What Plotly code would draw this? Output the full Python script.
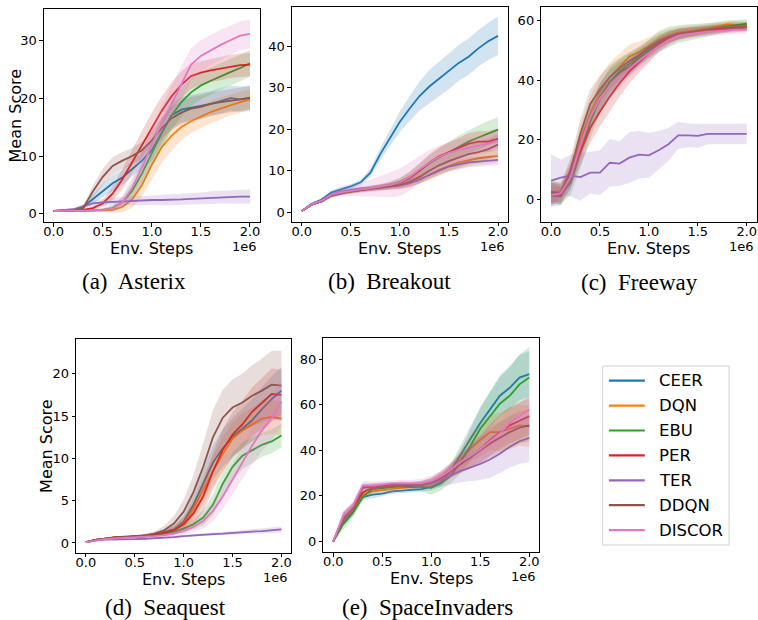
import plotly.graph_objects as go

W, H = 758, 620

env_steps = [0, 100000, 200000, 300000, 400000, 500000, 600000, 700000, 800000, 900000,
             1000000, 1100000, 1200000, 1300000, 1400000, 1500000, 1600000, 1700000,
             1800000, 1900000, 2000000]

algorithms = ["CEER", "DQN", "EBU", "PER", "TER", "DDQN", "DISCOR"]
colors = ["#1f77b4", "#ff7f0e", "#2ca02c", "#d62728", "#9467bd", "#8c564b", "#e377c2"]

x_tickvals = [0, 500000, 1000000, 1500000, 2000000]
x_ticktext = ["0.0", "0.5", "1.0", "1.5", "2.0"]

# ---------------- Asterix ----------------
asterix_mean = {
    "CEER": [0.5, 0.5, 0.6, 1.2, 2.6, 4.0, 5.3, 6.3, 7.8, 9.2, 11.0, 14.0, 17.0, 18.0, 18.3, 18.6, 19.0, 19.5, 20.0, 19.8, 20.0],
    "DQN": [0.5, 0.5, 0.5, 0.5, 0.6, 0.6, 0.7, 1.2, 2.5, 5.0, 8.5, 11.5, 13.5, 15.0, 16.0, 16.8, 17.6, 18.2, 18.8, 19.3, 19.8],
    "EBU": [0.5, 0.5, 0.5, 0.5, 0.6, 0.7, 1.0, 2.0, 4.0, 7.0, 10.5, 14.0, 17.0, 19.3, 21.0, 22.2, 23.0, 23.8, 24.5, 25.2, 26.0],
    "PER": [0.5, 0.5, 0.6, 0.7, 1.0, 1.8, 3.5, 6.0, 9.0, 12.0, 15.0, 17.8, 20.3, 22.3, 23.8, 24.4, 24.8, 25.1, 25.5, 25.7, 25.8],
    "TER": [0.5, 0.6, 0.8, 1.3, 1.8, 2.0, 2.1, 2.2, 2.3, 2.3, 2.4, 2.4, 2.4, 2.5, 2.6, 2.7, 2.8, 2.9, 3.0, 3.0, 3.0],
    "DDQN": [0.5, 0.5, 0.6, 1.0, 3.9, 6.4, 8.3, 9.2, 10.0, 11.0, 12.7, 14.8, 16.5, 17.5, 18.2, 18.5, 19.0, 19.3, 19.5, 19.8, 20.1],
    "DISCOR": [0.5, 0.5, 0.5, 0.5, 0.6, 0.7, 0.9, 2.0, 4.5, 8.0, 12.0, 15.5, 19.0, 22.5, 25.8, 27.3, 28.3, 29.2, 30.0, 30.8, 31.1],
}
asterix_band = {
    "CEER": [0.1, 0.1, 0.2, 0.4, 0.8, 1.2, 1.4, 1.3, 1.3, 1.5, 1.8, 2.0, 2.2, 2.2, 2.2, 2.2, 2.2, 2.2, 2.2, 2.2, 2.2],
    "DQN": [0.1, 0.1, 0.1, 0.1, 0.2, 0.3, 0.5, 0.9, 1.5, 2.0, 2.5, 2.7, 2.6, 2.3, 2.0, 2.0, 1.9, 1.9, 1.8, 1.8, 1.8],
    "EBU": [0.1, 0.1, 0.1, 0.1, 0.2, 0.3, 0.5, 0.9, 1.5, 2.0, 2.5, 2.7, 2.6, 2.5, 2.4, 2.4, 2.3, 2.3, 2.3, 2.3, 2.3],
    "PER": [0.1, 0.1, 0.1, 0.2, 0.3, 0.6, 1.2, 1.8, 2.2, 2.4, 2.5, 2.5, 2.4, 2.3, 2.2, 2.0, 2.0, 2.0, 2.0, 2.0, 2.0],
    "TER": [0.1, 0.1, 0.2, 0.3, 0.5, 0.6, 0.7, 0.7, 0.8, 0.8, 0.8, 0.8, 0.9, 0.9, 1.0, 1.0, 1.1, 1.1, 1.1, 1.2, 1.2],
    "DDQN": [0.1, 0.1, 0.2, 0.4, 1.0, 1.4, 1.5, 1.5, 1.4, 1.5, 1.6, 1.8, 2.0, 2.0, 2.0, 2.0, 2.0, 2.0, 2.0, 2.0, 2.0],
    "DISCOR": [0.1, 0.1, 0.1, 0.1, 0.2, 0.3, 0.5, 1.0, 1.8, 2.5, 3.0, 3.2, 3.2, 3.0, 2.8, 2.7, 2.6, 2.6, 2.5, 2.5, 2.5],
}

# ---------------- Breakout ----------------
breakout_mean = {
    "CEER": [0.3, 2.0, 3.0, 4.7, 5.5, 6.2, 7.2, 9.5, 14.0, 18.0, 21.8, 25.0, 28.0, 30.3, 32.2, 34.0, 36.0, 37.5, 39.5, 41.2, 42.5],
    "DQN": [0.3, 1.8, 2.6, 4.0, 4.6, 5.0, 5.3, 5.6, 5.9, 6.2, 6.5, 7.0, 8.0, 9.0, 10.2, 11.2, 12.0, 12.5, 13.0, 13.3, 13.5],
    "EBU": [0.3, 1.8, 2.6, 4.0, 4.7, 5.1, 5.5, 5.8, 6.1, 6.6, 7.3, 8.5, 10.0, 11.8, 13.2, 14.5, 15.8, 17.0, 18.0, 19.0, 19.9],
    "PER": [0.3, 1.8, 2.6, 4.0, 4.6, 5.0, 5.4, 5.7, 6.0, 6.4, 7.0, 8.2, 10.0, 12.0, 13.5, 14.5, 15.5, 16.5, 17.0, 17.0, 17.7],
    "TER": [0.3, 1.8, 2.7, 4.2, 5.0, 5.4, 5.7, 5.7, 6.0, 6.2, 6.5, 7.0, 7.8, 9.0, 10.0, 11.0, 11.5, 12.0, 12.2, 12.4, 12.6],
    "DDQN": [0.3, 1.8, 2.6, 4.0, 4.5, 5.0, 5.3, 5.6, 5.9, 6.2, 6.5, 7.3, 8.5, 10.0, 11.3, 12.3, 13.2, 14.0, 14.5, 15.2, 16.3],
    "DISCOR": [0.3, 1.9, 2.7, 4.2, 4.8, 5.2, 5.5, 5.8, 6.2, 6.6, 7.2, 8.5, 10.3, 12.0, 13.3, 14.3, 15.0, 15.5, 16.0, 16.5, 17.2],
}
breakout_band = {
    "CEER": [0.1, 0.3, 0.4, 0.5, 0.6, 0.6, 0.7, 1.0, 1.5, 2.0, 2.5, 3.0, 3.5, 4.0, 4.2, 4.3, 4.3, 4.4, 4.4, 4.5, 4.6],
    "DQN": [0.1, 0.2, 0.3, 0.4, 0.4, 0.5, 0.5, 0.5, 0.6, 0.7, 0.8, 1.0, 1.2, 1.3, 1.4, 1.5, 1.5, 1.5, 1.5, 1.5, 1.5],
    "EBU": [0.1, 0.2, 0.3, 0.4, 0.4, 0.5, 0.5, 0.6, 0.7, 0.8, 1.0, 1.3, 1.6, 1.9, 2.2, 2.5, 2.7, 2.8, 2.9, 3.0, 3.0],
    "PER": [0.1, 0.2, 0.3, 0.4, 0.4, 0.5, 0.5, 0.6, 0.7, 0.9, 1.2, 1.5, 1.8, 2.0, 2.2, 2.3, 2.4, 2.5, 2.5, 2.5, 2.5],
    "TER": [0.1, 0.2, 0.3, 0.4, 0.4, 0.5, 0.5, 0.5, 0.6, 0.6, 0.7, 0.8, 0.9, 1.0, 1.1, 1.1, 1.2, 1.2, 1.2, 1.2, 1.2],
    "DDQN": [0.1, 0.2, 0.3, 0.4, 0.4, 0.5, 0.5, 0.6, 0.7, 0.8, 1.0, 1.3, 1.6, 1.9, 2.1, 2.3, 2.4, 2.5, 2.5, 2.5, 2.5],
    "DISCOR": [0.1, 0.3, 0.5, 0.7, 1.0, 1.3, 1.6, 2.0, 2.5, 3.0, 3.3, 3.4, 3.3, 3.0, 2.8, 2.6, 2.5, 2.4, 2.3, 2.2, 2.2],
}

# ---------------- Freeway ----------------
freeway_mean = {
    "CEER": [1.2, 1.0, 7.0, 17.5, 27.0, 34.5, 39.5, 42.5, 44.5, 47.5, 50.0, 52.5, 54.5, 55.5, 56.2, 56.8, 57.2, 57.7, 58.0, 58.3, 58.5],
    "DQN": [2.0, 3.0, 9.0, 20.0, 29.0, 36.0, 41.0, 44.5, 48.0, 49.5, 51.5, 53.5, 55.0, 56.0, 56.5, 57.0, 57.5, 58.0, 58.8, 58.5, 58.2],
    "EBU": [2.5, 1.8, 5.5, 15.5, 26.0, 34.0, 39.5, 43.0, 45.5, 48.0, 50.5, 53.0, 54.5, 55.5, 56.0, 56.5, 57.0, 57.5, 58.0, 58.7, 59.0],
    "PER": [2.2, 1.5, 8.0, 16.0, 24.0, 29.5, 34.5, 39.0, 43.0, 46.0, 49.0, 52.0, 54.0, 55.5, 56.0, 56.5, 57.0, 57.3, 57.5, 57.8, 58.0],
    "TER": [6.3, 7.3, 8.0, 7.5, 9.0, 9.0, 12.3, 12.0, 14.0, 15.0, 14.8, 16.5, 18.5, 21.5, 21.5, 21.3, 22.0, 22.0, 22.0, 22.0, 22.0],
    "DDQN": [2.5, 2.0, 10.0, 22.0, 32.0, 37.0, 41.0, 44.0, 46.5, 48.5, 51.0, 53.0, 54.5, 55.5, 56.0, 56.3, 56.6, 57.0, 57.2, 57.5, 57.7],
    "DISCOR": [1.5, 2.0, 7.5, 18.0, 27.5, 34.0, 38.0, 41.0, 44.0, 46.5, 49.0, 51.5, 53.5, 55.0, 55.5, 56.0, 56.3, 56.5, 56.8, 57.0, 57.0],
}
freeway_band = {
    "CEER": [3.5, 3.0, 3.5, 4.0, 4.5, 4.5, 4.0, 3.5, 3.0, 2.8, 2.5, 2.2, 2.0, 1.8, 1.6, 1.5, 1.5, 1.4, 1.4, 1.3, 1.3],
    "DQN": [3.5, 3.0, 4.0, 5.0, 5.5, 5.5, 5.0, 4.5, 4.0, 3.5, 3.0, 2.5, 2.2, 2.0, 1.8, 1.6, 1.5, 1.5, 1.4, 1.3, 1.3],
    "EBU": [4.0, 3.5, 4.0, 5.0, 5.5, 5.0, 4.5, 4.0, 3.5, 3.0, 3.0, 3.5, 3.5, 3.0, 2.8, 2.5, 2.2, 2.0, 1.8, 1.6, 1.5],
    "PER": [3.5, 3.0, 4.0, 4.5, 5.0, 5.0, 5.0, 4.5, 4.0, 3.5, 3.0, 2.5, 2.0, 1.8, 1.6, 1.5, 1.5, 1.4, 1.4, 1.3, 1.3],
    "TER": [9.0, 6.0, 7.0, 8.0, 7.0, 7.5, 8.0, 7.5, 8.5, 8.0, 7.5, 6.5, 5.5, 4.5, 4.0, 4.0, 3.5, 3.5, 3.5, 3.5, 3.5],
    "DDQN": [3.5, 3.0, 4.0, 5.0, 5.0, 4.5, 4.0, 3.5, 3.0, 2.8, 2.5, 2.2, 2.0, 1.8, 1.6, 1.5, 1.5, 1.4, 1.4, 1.3, 1.3],
    "DISCOR": [3.5, 3.0, 3.5, 4.0, 4.5, 4.5, 4.0, 3.5, 3.0, 2.8, 2.5, 2.2, 2.0, 1.8, 1.6, 1.5, 1.5, 1.4, 1.4, 1.3, 1.3],
}

# ---------------- Seaquest ----------------
seaquest_mean = {
    "CEER": [0.1, 0.35, 0.5, 0.65, 0.7, 0.75, 0.85, 1.0, 1.3, 1.6, 2.5, 4.5, 7.0, 9.5, 11.2, 12.5, 13.5, 14.5, 15.8, 17.0, 18.0],
    "DQN": [0.1, 0.35, 0.5, 0.65, 0.7, 0.75, 0.85, 1.0, 1.2, 1.5, 2.3, 4.0, 6.3, 8.5, 10.5, 12.3, 13.3, 14.0, 14.7, 14.9, 14.7],
    "EBU": [0.1, 0.35, 0.5, 0.6, 0.65, 0.7, 0.75, 0.9, 1.1, 1.3, 1.7, 2.2, 3.0, 4.5, 7.0, 9.0, 10.3, 11.0, 11.6, 12.0, 12.7],
    "PER": [0.1, 0.35, 0.5, 0.65, 0.7, 0.75, 0.85, 1.0, 1.2, 1.5, 2.2, 3.5, 5.5, 8.5, 11.0, 12.8, 14.0, 15.5, 16.5, 17.6, 17.5],
    "TER": [0.1, 0.3, 0.4, 0.4, 0.4, 0.45, 0.5, 0.55, 0.6, 0.7, 0.8, 0.9, 1.0, 1.05, 1.1, 1.2, 1.3, 1.35, 1.4, 1.5, 1.6],
    "DDQN": [0.1, 0.35, 0.5, 0.7, 0.75, 0.8, 0.9, 1.1, 1.5, 2.3, 3.7, 6.0, 9.0, 12.5, 14.8, 16.0, 16.6, 17.4, 18.0, 18.7, 18.6],
    "DISCOR": [0.1, 0.3, 0.45, 0.55, 0.6, 0.65, 0.7, 0.8, 0.9, 1.1, 1.4, 1.9, 2.6, 3.8, 5.5, 7.5, 9.5, 11.5, 13.3, 14.7, 16.7],
}
seaquest_band = {
    "CEER": [0.05, 0.05, 0.1, 0.1, 0.1, 0.1, 0.15, 0.2, 0.3, 0.5, 0.8, 1.3, 1.8, 2.0, 2.2, 2.3, 2.4, 2.5, 2.6, 2.7, 2.8],
    "DQN": [0.05, 0.05, 0.1, 0.1, 0.1, 0.1, 0.15, 0.2, 0.3, 0.5, 0.8, 1.2, 1.6, 1.8, 2.0, 2.0, 2.0, 2.0, 2.0, 2.0, 2.0],
    "EBU": [0.05, 0.05, 0.1, 0.1, 0.1, 0.1, 0.1, 0.15, 0.2, 0.3, 0.4, 0.6, 0.9, 1.2, 1.5, 1.6, 1.6, 1.5, 1.4, 1.4, 1.4],
    "PER": [0.05, 0.05, 0.1, 0.1, 0.1, 0.1, 0.15, 0.2, 0.3, 0.5, 0.8, 1.3, 1.8, 2.2, 2.5, 2.7, 2.8, 2.9, 3.0, 3.0, 3.0],
    "TER": [0.05, 0.05, 0.05, 0.1, 0.1, 0.1, 0.1, 0.1, 0.1, 0.15, 0.15, 0.15, 0.2, 0.2, 0.2, 0.2, 0.25, 0.25, 0.3, 0.3, 0.35],
    "DDQN": [0.05, 0.05, 0.1, 0.1, 0.1, 0.1, 0.15, 0.25, 0.5, 0.9, 1.4, 2.0, 2.8, 3.2, 3.3, 3.3, 3.4, 3.6, 3.8, 4.0, 4.1],
    "DISCOR": [0.05, 0.05, 0.1, 0.1, 0.1, 0.1, 0.1, 0.15, 0.2, 0.3, 0.4, 0.6, 0.9, 1.2, 1.5, 1.8, 2.0, 2.2, 2.4, 2.6, 2.8],
}

# ---------------- SpaceInvaders ----------------
spaceinvaders_mean = {
    "CEER": [0.0, 9.0, 13.0, 19.5, 20.5, 21.0, 22.0, 22.3, 22.8, 23.0, 24.0, 26.0, 31.0, 38.0, 45.0, 52.0, 58.0, 64.0, 67.5, 72.0, 73.5],
    "DQN": [0.0, 10.0, 14.0, 20.5, 22.0, 22.5, 23.0, 23.5, 24.0, 24.5, 25.5, 27.5, 31.0, 36.0, 41.0, 44.5, 48.0, 48.0, 49.5, 51.0, 50.5],
    "EBU": [0.0, 7.5, 12.5, 19.5, 23.0, 23.5, 24.0, 24.3, 24.0, 24.0, 23.5, 25.5, 29.0, 35.0, 42.0, 49.5, 55.0, 60.5, 64.0, 69.0, 72.0],
    "PER": [0.0, 10.0, 14.5, 21.5, 23.5, 24.0, 24.5, 24.5, 24.5, 25.0, 26.0, 28.0, 31.0, 34.0, 37.0, 40.5, 44.5, 48.0, 51.0, 53.0, 55.0],
    "TER": [0.0, 10.5, 15.0, 24.0, 24.0, 24.5, 25.0, 25.0, 25.0, 25.0, 25.5, 27.0, 29.0, 31.0, 32.5, 34.0, 36.0, 38.5, 41.5, 44.0, 45.5],
    "DDQN": [0.0, 10.0, 15.0, 23.5, 24.0, 24.5, 25.0, 25.0, 25.0, 25.0, 26.0, 28.5, 31.5, 34.5, 37.0, 40.0, 43.0, 45.5, 48.0, 50.0, 51.0],
    "DISCOR": [0.0, 11.0, 15.5, 24.5, 24.5, 25.0, 25.5, 25.5, 25.5, 25.5, 26.5, 28.5, 31.5, 35.0, 37.5, 40.5, 44.0, 47.5, 52.0, 55.0, 58.0],
}
spaceinvaders_band = {
    "CEER": [0.5, 2.5, 2.0, 1.5, 1.5, 1.2, 1.2, 1.2, 1.2, 1.2, 1.5, 2.0, 3.0, 4.5, 6.0, 7.0, 8.0, 9.0, 9.5, 10.0, 10.0],
    "DQN": [0.5, 2.5, 2.0, 1.5, 1.5, 1.2, 1.2, 1.2, 1.2, 1.2, 1.5, 2.0, 3.0, 4.5, 6.0, 7.0, 8.0, 8.5, 9.0, 9.0, 9.0],
    "EBU": [0.5, 2.5, 2.0, 1.5, 1.5, 1.2, 1.2, 1.2, 1.2, 2.0, 3.0, 3.0, 3.5, 5.0, 7.0, 9.0, 10.5, 11.5, 12.5, 13.0, 13.5],
    "PER": [0.5, 2.5, 2.0, 1.5, 1.5, 1.2, 1.2, 1.2, 1.2, 1.5, 2.0, 2.5, 3.0, 4.0, 5.0, 6.0, 7.0, 7.5, 8.0, 8.0, 8.0],
    "TER": [0.5, 2.5, 2.0, 1.5, 1.5, 1.2, 1.2, 1.2, 1.2, 1.5, 2.0, 3.0, 4.0, 5.0, 6.0, 7.0, 8.0, 8.5, 9.0, 10.0, 10.5],
    "DDQN": [0.5, 2.5, 2.0, 1.5, 1.5, 1.2, 1.2, 1.2, 1.2, 1.5, 2.0, 2.5, 3.0, 4.0, 5.0, 6.0, 6.5, 7.0, 7.0, 7.0, 7.0],
    "DISCOR": [0.5, 2.5, 2.0, 2.0, 1.8, 1.5, 1.5, 1.5, 1.5, 2.0, 2.5, 2.5, 3.0, 4.0, 5.0, 5.5, 6.0, 6.0, 6.0, 6.0, 6.0],
}

captions = ["(a)  Asterix", "(b)  Breakout", "(c)  Freeway", "(d)  Seaquest", "(e)  SpaceInvaders"]

# panel layout in pixels: (left, right, top, bottom), y range, y ticks, caption center (x, y)
panels = [
    dict(mean=asterix_mean, band=asterix_band, box=(43.0, 259.5, 9.0, 222.0), yr=(-1.4, 35.4),
         yt=[0, 10, 20, 30], cap=(133, 281), ylab=(15, 115.5)),
    dict(mean=breakout_mean, band=breakout_band, box=(291.7, 508.2, 7.3, 221.7), yr=(-2.3, 49.4),
         yt=[0, 10, 20, 30, 40], cap=(390, 281), ylab=None),
    dict(mean=freeway_mean, band=freeway_band, box=(541.7, 757.5, 7.3, 221.7), yr=(-7.5, 64.5),
         yt=[0, 20, 40, 60], cap=(640, 282), ylab=None),
    dict(mean=seaquest_mean, band=seaquest_band, box=(75.3, 291.0, 339.0, 552.7), yr=(-1.15, 24.1),
         yt=[0, 5, 10, 15, 20], cap=(165, 607), ylab=(45, 446)),
    dict(mean=spaceinvaders_mean, band=spaceinvaders_band, box=(323.3, 539.5, 337.7, 552.3), yr=(-4.8, 89.5),
         yt=[0, 20, 40, 60, 80], cap=(428, 607), ylab=None),
]


def rgba(hexc, a):
    h = hexc.lstrip("#")
    return "rgba(%d,%d,%d,%.2f)" % (int(h[0:2], 16), int(h[2:4], 16), int(h[4:6], 16), a)


def px_x(p):
    return min(1.0, max(0.0, p / W))


def px_y(p):
    return min(1.0, max(0.0, 1 - p / H))


fig = go.Figure()
layout = dict(width=W, height=H, margin=dict(l=0, r=0, t=0, b=0),
              paper_bgcolor="white", plot_bgcolor="white", showlegend=False)
annotations = []
shapes = []
tick_font = dict(family="DejaVu Sans", size=13, color="black")

for i, p in enumerate(panels):
    k = "" if i == 0 else str(i + 1)
    xa, ya = "x" + k, "y" + k
    left, right, top, bottom = p["box"]
    for alg, col in zip(algorithms, colors):
        m = p["mean"][alg]
        b = p["band"][alg]
        upper = [mm + bb for mm, bb in zip(m, b)]
        lower = [mm - bb for mm, bb in zip(m, b)]
        fig.add_trace(go.Scatter(x=env_steps + env_steps[::-1], y=upper + lower[::-1],
                                 fill="toself", fillcolor=rgba(col, 0.2), line=dict(width=0),
                                 mode="lines", hoverinfo="skip", xaxis=xa, yaxis=ya))
        fig.add_trace(go.Scatter(x=env_steps, y=m, mode="lines", name=alg,
                                 line=dict(color=col, width=1.8), xaxis=xa, yaxis=ya))
    axis_common = dict(showline=True, linecolor="black", linewidth=1, mirror=True,
                       ticks="outside", ticklen=3.5, tickwidth=0.8, tickcolor="black",
                       showgrid=False, zeroline=False, tickfont=tick_font)
    layout["xaxis" + k] = dict(axis_common, domain=[px_x(left), px_x(right)], range=[-100000, 2100000],
                               tickvals=x_tickvals, ticktext=x_ticktext, anchor=ya,
                               ticklabelstandoff=-6)
    layout["yaxis" + k] = dict(axis_common, domain=[px_y(bottom), px_y(top)], range=list(p["yr"]),
                               tickvals=p["yt"], ticktext=[str(v) for v in p["yt"]], anchor=xa)
    xc = (left + right) / 2
    annotations.append(dict(x=px_x(xc), y=px_y(bottom + 26.5), xref="paper", yref="paper",
                            text="Env. Steps", showarrow=False, xanchor="center", yanchor="middle",
                            font=dict(family="DejaVu Sans", size=16, color="black")))
    annotations.append(dict(x=px_x(right - 1), y=px_y(bottom + 24.5), xref="paper", yref="paper",
                            text="1e6", showarrow=False, xanchor="right", yanchor="middle",
                            font=dict(family="DejaVu Sans", size=13, color="black")))
    if p["ylab"] is not None:
        annotations.append(dict(x=px_x(p["ylab"][0]), y=px_y(p["ylab"][1]), xref="paper", yref="paper",
                                text="Mean Score", showarrow=False, textangle=-90,
                                xanchor="center", yanchor="middle",
                                font=dict(family="DejaVu Sans", size=16, color="black")))
    annotations.append(dict(x=px_x(p["cap"][0]), y=px_y(p["cap"][1]), xref="paper", yref="paper",
                            text=captions[i], showarrow=False, xanchor="center", yanchor="middle",
                            font=dict(family="Liberation Serif", size=23, color="black")))

# manual legend
lg_left, lg_right, lg_top, lg_bottom = 603.3, 730.0, 366.0, 545.0
shapes.append(dict(type="rect", xref="paper", yref="paper", x0=px_x(lg_left), x1=px_x(lg_right),
                   y0=px_y(lg_bottom), y1=px_y(lg_top), line=dict(color="#d0d0d0", width=1),
                   fillcolor="white", layer="above"))
for j, (alg, col) in enumerate(zip(algorithms, colors)):
    yy = 380.7 + 24.9 * j
    shapes.append(dict(type="line", xref="paper", yref="paper", x0=px_x(609.5), x1=px_x(645.5),
                       y0=px_y(yy), y1=px_y(yy), line=dict(color=col, width=2.2), layer="above"))
    annotations.append(dict(x=px_x(657.5), y=px_y(yy), xref="paper", yref="paper", text=alg,
                            showarrow=False, xanchor="left", yanchor="middle",
                            font=dict(family="DejaVu Sans", size=16.5, color="black")))

layout["annotations"] = annotations
layout["shapes"] = shapes
fig.update_layout(**layout)
fig.write_html("out.html", config={"displayModeBar": False},
               post_script="document.body.style.margin='0';document.body.style.padding='0';")
